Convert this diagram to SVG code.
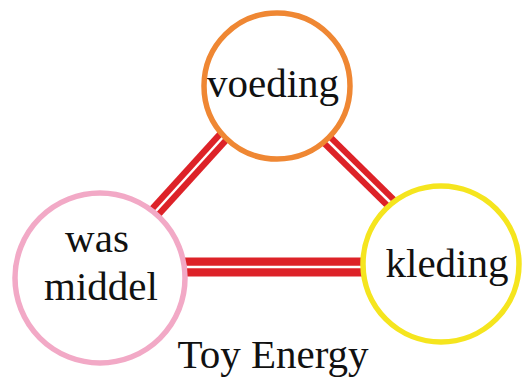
<svg xmlns="http://www.w3.org/2000/svg" width="524" height="388" viewBox="0 0 524 388">
<style>
.node{fill:#fff;stroke-width:5.5}
.lbl{font-family:"Liberation Serif","Times New Roman",serif;font-size:41px;fill:#111;text-anchor:middle}
.band{stroke:#DD2228;stroke-width:15;stroke-linecap:butt}
.gap{stroke:#fff;stroke-width:2.5}
</style>
<rect width="524" height="388" fill="#fff"/>
<g id="connectors">
<line class="band" x1="155" y1="212" x2="225" y2="135"/>
<line class="gap" x1="155" y1="212" x2="225" y2="135"/>
<line class="band" x1="326" y1="139" x2="392" y2="204"/>
<line class="gap" x1="326" y1="139" x2="392" y2="204"/>
<line class="band" x1="183" y1="267" x2="368" y2="267" style="stroke-width:19"/>
<line class="gap" x1="183" y1="267" x2="364" y2="267"/>
</g>
<g id="voeding">
<circle class="node" cx="277" cy="86" r="73" stroke="#EF8733"/>
<text class="lbl" x="273" y="97">voeding</text>
</g>
<g id="wasmiddel">
<circle class="node" cx="100" cy="278" r="85" stroke="#F2A9C6"/>
<text class="lbl" x="97" y="252">was</text>
<text class="lbl" x="101" y="300">middel</text>
</g>
<g id="kleding">
<circle class="node" cx="441" cy="264" r="78" stroke="#F5E51E"/>
<text class="lbl" x="447" y="277">kleding</text>
</g>
<text class="lbl" x="273" y="368">Toy Energy</text>
</svg>
